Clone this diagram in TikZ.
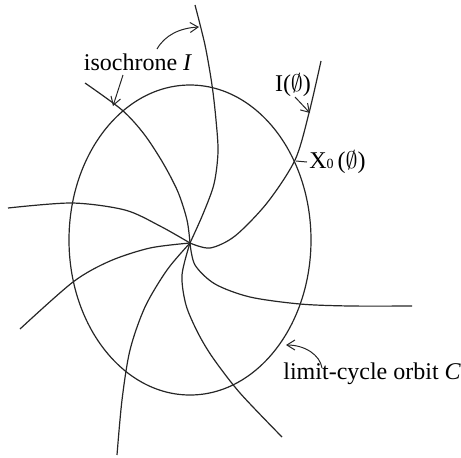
\documentclass[tikz,border=0pt]{standalone}
\usepackage{fontspec}
\setmainfont{Liberation Serif}
\usetikzlibrary{arrows.meta}
\tikzset{
    orbit/.style={line width=0.6pt, draw=black!85},
    iso/.style={line width=0.6pt, draw=black!85},
    lbl/.style={font=\fontsize{12}{14}\selectfont, inner sep=1pt},
    ptr/.style={-{Straight Barb[length=4pt,width=5pt]}, line width=0.5pt, draw=black!85}
}
\begin{document}
\begin{tikzpicture}[x=0.5pt,y=-0.5pt]
\useasboundingbox (0,0) rectangle (461,457);

% ── limit cycle ───────────────────────────────────────────────────────
\draw[orbit] (190,240) ellipse [x radius=121, y radius=155];

% ── isochrones through the phaseless point ────────────────────────────
\coordinate (hub) at (190,243);
\draw[iso] plot[smooth] coordinates {(hub) (203,214) (214,184) (218,152) (216,120) (212,85) (205,45) (195,5)};
\draw[iso] plot[smooth] coordinates {(hub) (187,220) (178,192) (163,163) (144,134) (122,110) (85,83)};
\draw[iso] plot[smooth] coordinates {(hub) (210,248) (235,236) (267,203) (295,160) (309,113) (321,61)};
\draw[iso] plot[smooth] coordinates {(hub) (195,265) (215,284) (250,297) (300,304) (350,306) (412,306)};
\draw[iso] plot[smooth] coordinates {(hub) (182,275) (186,305) (198,333) (213,358) (240,393) (282,437)};
\draw[iso] plot[smooth] coordinates {(hub) (167,270) (145,307) (130,350) (122,400) (117,455)};
\draw[iso] plot[smooth] coordinates {(hub) (150,248) (110,261) (73,282) (20,329)};
\draw[iso] plot[smooth] coordinates {(hub) (160,226) (125,210) (72,203) (8,208)};

% ── labels ────────────────────────────────────────────────────────────
\node[lbl] (isoname) at (138,62) {isochrone \textit{I}};
\node[lbl] (iphi) at (293,85) {I($\emptyset$)};
\node[lbl, anchor=west] (xphi) at (307,162) {X{\fontsize{7}{8}\selectfont 0}\,($\emptyset$)};
\node[lbl, anchor=west] (cname) at (281,374) {limit-cycle orbit \textit{C}};

% ── pointers ──────────────────────────────────────────────────────────
\coordinate (isoA) at (157,49);
\coordinate (isoB) at (123,75);
\coordinate (onA) at (199,27);
\coordinate (onB) at (113,106);
\coordinate (iphiS) at (295,97);
\coordinate (onC) at (310,113);
\coordinate (onX) at (296,161);
\coordinate (cS) at (322,368);
\coordinate (onO) at (286,345);

\draw[ptr] (isoA) .. controls (165,35) and (180,28) .. (onA);
\draw[ptr] (isoB) -- (onB);
\draw[ptr] (iphiS) -- (onC);
\draw[line width=0.5pt, draw=black!85] (onX) -- (xphi.west);
\draw[ptr] (cS) .. controls (320,355) and (305,345) .. (onO);
\end{tikzpicture}
\end{document}
